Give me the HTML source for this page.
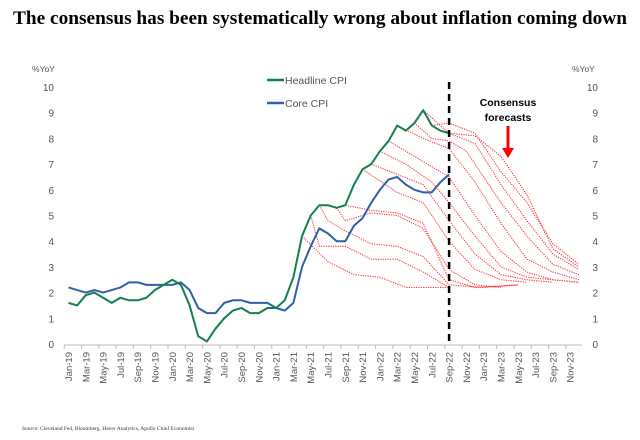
<!DOCTYPE html>
<html><head><meta charset="utf-8"><style>
body{margin:0;background:#fff;width:640px;height:440px;overflow:hidden}
svg{display:block}
</style></head><body>
<svg width="640" height="440" xmlns="http://www.w3.org/2000/svg">
<text x="320" y="24" text-anchor="middle" font-family="Liberation Serif, serif" font-weight="bold" font-size="19" textLength="614" lengthAdjust="spacingAndGlyphs" fill="#000">The consensus has been systematically wrong about inflation coming down</text>
<g id="plot"></g>
<text x="22" y="430" font-family="Liberation Serif, serif" font-size="5.5" fill="#333">Source: Cleveland Fed, Bloomberg, Haver Analytics, Apollo Chief Economist</text>
</svg>
<script>
const monthNames=["Jan","Feb","Mar","Apr","May","Jun","Jul","Aug","Sep","Oct","Nov","Dec"];
const yTicks=[0,1,2,3,4,5,6,7,8,9,10];
const headline=[1.6,1.5,1.9,2.0,1.8,1.6,1.8,1.7,1.7,1.8,2.1,2.3,2.5,2.3,1.5,0.3,0.1,0.6,1.0,1.3,1.4,1.2,1.2,1.4,1.4,1.7,2.6,4.2,5.0,5.4,5.4,5.3,5.4,6.2,6.8,7.0,7.5,7.9,8.5,8.3,8.6,9.1,8.5,8.3,8.2];
const core=[2.2,2.1,2.0,2.1,2.0,2.1,2.2,2.4,2.4,2.3,2.3,2.3,2.3,2.4,2.1,1.4,1.2,1.2,1.6,1.7,1.7,1.6,1.6,1.6,1.4,1.3,1.6,3.0,3.8,4.5,4.3,4.0,4.0,4.6,4.9,5.5,6.0,6.4,6.5,6.2,6.0,5.9,5.9,6.3,6.6];
const fcMonths=[
[27,30,33,36,39,44],
[28,29,32,35,38,41,44],
[29,30,32,35,38,41,44,48,52],
[31,32,35,38,41,44,47,50],
[32,35,38,41,44,47,52],
[34,38,41,44,47,50,53],
[35,38,41,44,47,50,53,56],
[36,39,42,44,47,50,53,56,59],
[37,41,44,47,50,53,56,59],
[38,41,44,47,50,53,56,59],
[40,42,44,46,50,53,56,59],
[41,44,47,50,53,56,59],
[42,44,47,50,53,56,59],
[44,47,50,53,56,59]];
const fcValues=[
[4.2,3.2,2.7,2.6,2.2,2.2],
[5.0,3.8,3.8,3.3,3.3,2.8,2.2],
[5.4,4.8,4.4,3.9,3.8,3.4,2.3,2.2,2.3],
[5.3,4.8,5.1,5.0,4.5,2.9,2.3,2.2],
[5.4,5.2,5.1,4.7,2.5,2.2,2.3],
[6.8,5.9,5.5,4.0,2.9,2.5,2.4],
[7.0,6.6,6.2,4.8,3.5,2.7,2.5,2.4],
[7.5,7.0,6.3,5.5,4.2,3.0,2.6,2.5,2.4],
[7.9,7.1,6.5,5.0,3.6,2.8,2.5,2.4],
[8.5,8.0,7.6,6.3,4.7,3.3,2.8,2.5],
[8.6,8.0,7.9,7.5,5.5,4.2,3.1,2.7],
[9.1,8.2,7.8,6.2,4.8,3.5,2.9],
[8.5,8.6,8.2,6.7,5.5,3.9,3.1],
[8.2,8.1,7.3,5.8,3.7,3.0]];
const NS="http://www.w3.org/2000/svg";
const X=m=>68.5+8.65*m, Y=v=>344-25.7*v;
const g=document.getElementById('plot');
function mk(t,a,p){const e=document.createElementNS(NS,t);for(const k in a)e.setAttribute(k,a[k]);(p||g).appendChild(e);return e;}
let ax=mk('line',{x1:64,y1:345,x2:582,y2:345,stroke:'#bbb','stroke-width':1});


for(let m=0;m<60;m+=2){
 const x=X(m);
 const tk=mk('line',{x1:x-4.3,y1:345,x2:x-4.3,y2:349,stroke:'#bbb'});
 
 
 const lab=monthNames[m%12]+"-"+(19+Math.floor(m/12));
 const t=mk('text',{x:0,y:0,transform:`translate(${x+3.5},352) rotate(-90)`,'text-anchor':'end','font-family':'Liberation Sans, sans-serif','font-size':'9.5',fill:'#555'});
 t.textContent=lab;
 
 
}
yTicks.forEach(v=>{
 const a=mk('text',{x:54,y:Y(v)+4,'text-anchor':'end','font-family':'Liberation Sans, sans-serif','font-size':'10',fill:'#555'});
 a.textContent=v;
 
 
 const b=mk('text',{x:598,y:Y(v)+4,'text-anchor':'end','font-family':'Liberation Sans, sans-serif','font-size':'10',fill:'#555'});
 b.textContent=v;
 
 
});
[[32,'left'],[572,'right']].forEach(([x,s])=>{
 const t=mk('text',{x:x,y:72,'font-family':'Liberation Sans, sans-serif','font-size':'8.5',fill:'#555'});
 t.textContent='%YoY';
 
 
});
fcMonths.forEach((ms,i)=>{
 const pts=ms.map((m,j)=>X(m)+','+Y(fcValues[i][j])).join(' ');
 const p=mk('polyline',{points:pts,fill:'none',stroke:'#f33','stroke-width':1.1,'stroke-dasharray':'1.2 1.2'});
 
 
});
function series(arr,col,name){
 const p=mk('polyline',{points:arr.map((v,i)=>X(i)+','+Y(v)).join(' '),fill:'none',stroke:col,'stroke-width':2,'stroke-linejoin':'round'});
 
 
}
series(core,'#2e5fa8','core-cpi-line');
series(headline,'#14804a','headline-cpi-line');
const dl=mk('line',{x1:X(44),y1:82,x2:X(44),y2:344,stroke:'#000','stroke-width':2.5,'stroke-dasharray':'7 5'});


[['Headline CPI','#14804a',80],['Core CPI','#2e5fa8',103]].forEach(([n,c,y])=>{
 const l=mk('line',{x1:267,y1:y,x2:284,y2:y,stroke:c,'stroke-width':2.5});
 
 
 const t=mk('text',{x:285,y:y+4,'font-family':'Liberation Sans, sans-serif','font-size':'10.5',fill:'#555'});
 t.textContent=n;
 
 
});
[['Consensus',106],['forecasts',121]].forEach(([s,y])=>{
 const t=mk('text',{x:508,y:y,'text-anchor':'middle','font-family':'Liberation Sans, sans-serif','font-weight':'bold','font-size':'10.5',fill:'#000'});
 t.textContent=s;
 
 
});
const ar=mk('path',{d:'M506.5 126 V148 H502 L508 158 L514 148 H509.5 V126 Z',fill:'#f00'});


</script>
</body></html>
